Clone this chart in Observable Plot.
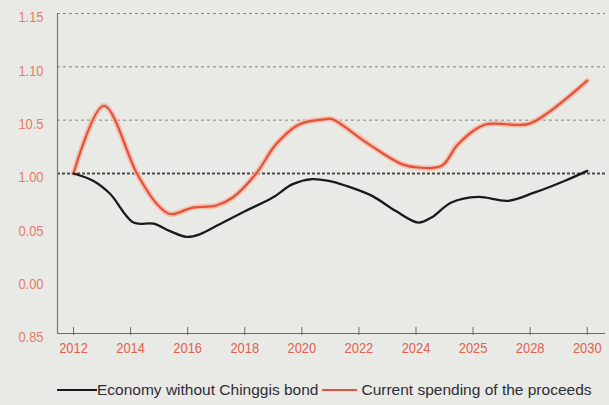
<!DOCTYPE html>
<html>
<head>
<meta charset="utf-8">
<script src="https://cdn.jsdelivr.net/npm/d3@7"></script>
<script src="https://cdn.jsdelivr.net/npm/@observablehq/plot@0.6"></script>
<style>
  html, body { margin: 0; padding: 0; background: #e9e9e5; }
  #chart { width: 609px; height: 405px; overflow: hidden; }
  .legend { display: flex; align-items: center; height: 20px; padding-left: 57px;
    font-family: "Liberation Sans", Arial, sans-serif; font-size: 15.5px; color: #2e2e35; }
  .sw { display: inline-block; height: 0; }
</style>
</head>
<body>
<div id="chart"></div>
<script>
const xLabels = ["2012","2014","2016","2018","2020","2022","2024","2025","2028","2030"];
const yTicks = [0.85, 0.90, 0.95, 1.00, 1.05, 1.10, 1.15];
const yLabels = ["0.85","0.00","0.05","1.00","10.5","1.10","1.15"];

const redX = [0, 0.53, 1.11, 1.45, 1.69, 2.09, 2.50, 2.79, 3.20, 3.55, 3.95, 4.42, 4.53, 5.17, 5.75, 6.04, 6.45, 6.74, 7.20, 7.96, 8.36, 9.0];
const redY = [1.00, 1.0635, 1.00, 0.972, 0.962, 0.968, 0.970, 0.9775, 1.00, 1.0276, 1.046, 1.051, 1.051, 1.0276, 1.0088, 1.0056, 1.0072, 1.0276, 1.0457, 1.0463, 1.0588, 1.087];

const blackX = [0, 0.35, 0.64, 1.05, 1.40, 1.69, 1.98, 2.21, 2.56, 3.02, 3.49, 3.84, 4.18, 4.47, 4.77, 5.23, 5.64, 6.04, 6.27, 6.62, 7.09, 7.61, 8.07, 8.60, 9.0];
const blackY = [1.00, 0.993, 0.981, 0.954, 0.953, 0.946, 0.9406, 0.943, 0.9525, 0.965, 0.9775, 0.990, 0.9947, 0.993, 0.9885, 0.979, 0.965, 0.954, 0.9587, 0.9728, 0.978, 0.9744, 0.982, 0.993, 1.0025];

const seriesNames = ["Economy without Chinggis bond", "Current spending of the proceeds"];

const red = redX.map((x, i) => ({x, y: redY[i]}));
const black = blackX.map((x, i) => ({x, y: blackY[i]}));
const xIdx = xLabels.map((_, i) => i);
const xMin = -0.2808, xMax = 9.32;

const plot = Plot.plot({
  width: 609,
  height: 380,
  marginTop: 13,
  marginBottom: 47,
  marginLeft: 57,
  marginRight: 4,
  style: {background: "transparent", fontFamily: "'Liberation Sans', sans-serif", fontSize: "15px"},
  x: {domain: [xMin, xMax]},
  y: {domain: [0.85, 1.15]},
  marks: [
    Plot.ruleY([1.05, 1.10, 1.15], {stroke: "#7a7a7a", strokeWidth: 1, strokeDasharray: "3,3", strokeOpacity: 0.9}),
    Plot.ruleY([1.00], {stroke: "#4a4a4a", strokeWidth: 2, strokeDasharray: "3,2"}),
    Plot.ruleX([xMin], {y1: 0.85, y2: 1.15, stroke: "#7c7c7c", strokeWidth: 1.2}),
    Plot.ruleY([0.85], {stroke: "#6a6a6a", strokeWidth: 1.2}),
    Plot.ruleX(xIdx, {x: d => d, y1: 0.85, y2: 0.85, insetTop: -6, insetBottom: -2, stroke: "#6a6a6a"}),
    Plot.axisX(xIdx, {tickSize: 0, tickPadding: 9, tickFormat: i => xLabels[i], fill: "#e0624f", fontSize: 15, label: null}),
    Plot.axisY(yTicks, {tickSize: 0, tickPadding: 14, dy: 4, tickFormat: (d, i) => yLabels[i], fill: "#e47d69", fontSize: 15, label: null}),
    Plot.line(red, {x: "x", y: "y", curve: "catmull-rom", stroke: "#f6b9a2", strokeWidth: 5.5, strokeOpacity: 0.85}),
    Plot.line(red, {x: "x", y: "y", curve: "catmull-rom", stroke: "#e4513c", strokeWidth: 2.2}),
    Plot.line(black, {x: "x", y: "y", curve: "catmull-rom", stroke: "#1a1a1c", strokeWidth: 2.3})
  ]
});

const chart = document.getElementById("chart");
chart.appendChild(plot);

// condense tick labels to mimic the narrow typeface of the original
d3.select(plot).selectAll("g[aria-label$='tick label'] text").each(function() {
  const len = this.getComputedTextLength();
  this.setAttribute("textLength", (len * 0.86).toFixed(1));
  this.setAttribute("lengthAdjust", "spacingAndGlyphs");
});

const legend = document.createElement("div");
legend.className = "legend";
legend.innerHTML =
  `<span class="sw" style="width:40px;border-top:2px solid #1a1a1c"></span>` +
  `<span>${seriesNames[0]}</span>` +
  `<span class="sw" style="width:35px;border-top:2.5px solid #e4513c;margin-left:4px;margin-right:4px"></span>` +
  `<span>${seriesNames[1]}</span>`;
chart.appendChild(legend);
</script>
</body>
</html>
